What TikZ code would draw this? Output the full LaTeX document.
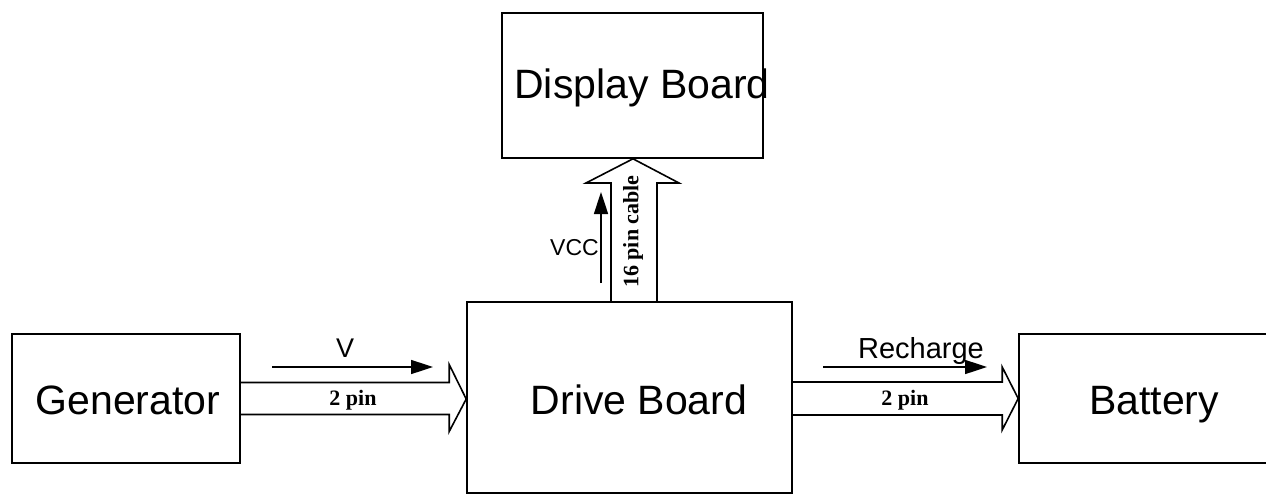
\documentclass[tikz,border=0pt]{standalone}
\usepackage{fontspec}
\setmainfont{Liberation Sans}
\newfontfamily\pinfont{Liberation Serif}
\usetikzlibrary{arrows.meta,calc}
\begin{document}
\begin{tikzpicture}[x=1pt,y=-1pt,
  blk/.style={draw,line width=1.6pt,inner sep=0pt},
  big/.style={font=\fontsize{41}{43}\selectfont,anchor=base,inner sep=0pt},
  small/.style={font=\fontsize{27}{29}\selectfont,anchor=base,inner sep=0pt},
  pin/.style={font=\pinfont\bfseries\fontsize{22}{24}\selectfont,inner sep=0pt},
  hollow/.style={draw,line width=1.6pt,line join=miter},
  thin/.style={line width=1.6pt,-{Triangle[length=22pt,width=14pt]}}]
\useasboundingbox (0,0) rectangle (1266,495);
% boxes
\node[blk,minimum width=228,minimum height=129] (gen) at (126,398.5) {};
\node[blk,minimum width=325,minimum height=191] (drv) at (629.5,397.5) {};
\node[blk,minimum width=252,minimum height=129] (bat) at (1145,398.5) {};
\node[blk,minimum width=261,minimum height=145] (dsp) at (632.5,85.5) {};
% texts
\node[big] (tgen) at (128,414) {Generator};
\node[big] (tdrv) at (639,414) {Drive Board};
\node[big] (tbat) at (1154,414) {Battery};
\node[big] (tdsp) at (642,98) {Display Board};
% hollow arrows
\path (gen.east) ++(0,-16) coordinate (a1) ++(0,32) coordinate (a2);
\draw[hollow] (a1) -- ($(drv.west |- a1)+(-17,0)$) -- ++(0,-18) -- (drv.west |- 0,399)
  -- ($(drv.west |- a2)+(-17,17)$) -- ++(0,-17) -- (a2);
\path (drv.east |- 0,382) coordinate (b1) (drv.east |- 0,415) coordinate (b2);
\draw[hollow] (b1) -- ($(bat.west |- b1)+(-16,0)$) -- ++(0,-15) -- (bat.west |- 0,398.5)
  -- ($(bat.west |- b2)+(-16,15)$) -- ++(0,-15) -- (b2);
\path (drv.north -| 611,0) coordinate (c1) (drv.north -| 657,0) coordinate (c2);
\draw[hollow] (c1) -- (611,183) -- (586,183) -- (dsp.south -| 633,0) -- (679,183) -- (657,183) -- (c2);
% labels of hollow arrows
\node[pin,anchor=base] (p1) at (353,405) {2 pin};
\node[pin,anchor=base] (p2) at (905,405) {2 pin};
\node[pin,rotate=90] (p3) at (633,231.5) {16 pin cable};
% thin arrows
\coordinate (v1) at (272,367); \coordinate (v2) at (433,367);
\draw[thin] (v1) -- (v2);
\node[small] (tv) at (345,357) {V};
\coordinate (r1) at (823,367); \coordinate (r2) at (987,367);
\draw[thin] (r1) -- (r2);
\node[small,font=\fontsize{29}{31}\selectfont] (tr) at (921,358) {Recharge};
\coordinate (u1) at (601,283); \coordinate (u2) at (601,192);
\draw[thin] (u1) -- (u2);
\node[small,font=\fontsize{23}{25}\selectfont,anchor=base east] (tu) at (599,255) {VCC};
\end{tikzpicture}
\end{document}
